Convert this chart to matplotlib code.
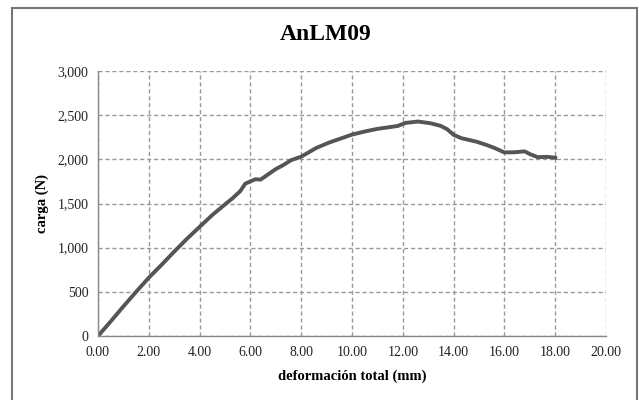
import numpy as np
import matplotlib.pyplot as plt
from matplotlib.patches import Rectangle
from matplotlib.ticker import FuncFormatter

# deformation (mm) and load (N)
deformacion = [0.00, 0.50, 1.00, 1.50, 2.00, 2.50, 3.00, 3.50, 4.00, 4.50, 5.00,
               5.30, 5.60, 5.80, 6.00, 6.20, 6.40, 6.60, 7.00, 7.30, 7.60, 8.00,
               8.60, 9.10, 9.50, 10.00, 10.50, 11.00, 11.50, 11.80, 12.10, 12.60,
               13.10, 13.50, 13.75, 14.00, 14.30, 14.90, 15.30, 15.60, 16.00, 16.40,
               16.80, 17.00, 17.30, 17.70, 18.00]
carga = [0, 165, 335, 500, 660, 805, 955, 1100, 1235, 1370, 1490,
         1560, 1640, 1725, 1750, 1775, 1770, 1810, 1890, 1936, 1990, 2030,
         2130, 2190, 2230, 2280, 2315, 2345, 2365, 2378, 2412, 2428,
         2408, 2378, 2340, 2278, 2240, 2200, 2162, 2130, 2078, 2080,
         2090, 2060, 2025, 2028, 2018]

x_ticks = np.arange(0, 21, 2)
y_ticks = np.arange(0, 3001, 500)

plt.rcParams['font.family'] = ['Liberation Serif', 'DejaVu Serif']

fig = plt.figure(figsize=(6.39, 4.0), dpi=100)
ax = fig.add_axes([98/639, 1 - 336/400, (606-98)/639, (336-71)/400])

ax.plot(deformacion, carga, color='#555555', linewidth=2.8, solid_joinstyle='round')

ax.set_xlim(0, 20)
ax.set_ylim(0, 3000)
ax.set_xticks(x_ticks)
ax.set_yticks(y_ticks)
ax.xaxis.set_major_formatter(FuncFormatter(lambda v, p: f"{v:.2f}"))
ax.yaxis.set_major_formatter(FuncFormatter(lambda v, p: f"{v:,.0f}"))
ax.tick_params(length=0, labelsize=10, colors='#222222', pad=7)

ax.grid(True, linestyle=(0, (3, 2)), color='#999999', linewidth=1)
for side in ['top', 'right']:
    ax.spines[side].set_visible(False)
for side in ['left', 'bottom']:
    ax.spines[side].set_color('#888888')
    ax.spines[side].set_linewidth(1)

# title is centred on the whole chart area, not the plot area
fig.text(326/639, 1 - 35/400, "AnLM09", fontsize=17, fontweight='bold',
         ha='center', va='center')
ax.set_xlabel("deformación total (mm)", fontsize=10.5, fontweight='bold', labelpad=8)
ax.set_ylabel("carga (N)", fontsize=10.5, fontweight='bold', labelpad=6)

# outer chart frame
fig.patches.append(Rectangle((12/639, -0.05), (637-12)/639, 1.05 - 8/400,
                             transform=fig.transFigure, fill=False,
                             edgecolor='#777777', linewidth=1.5))

fig.savefig("out.png", dpi=100)
